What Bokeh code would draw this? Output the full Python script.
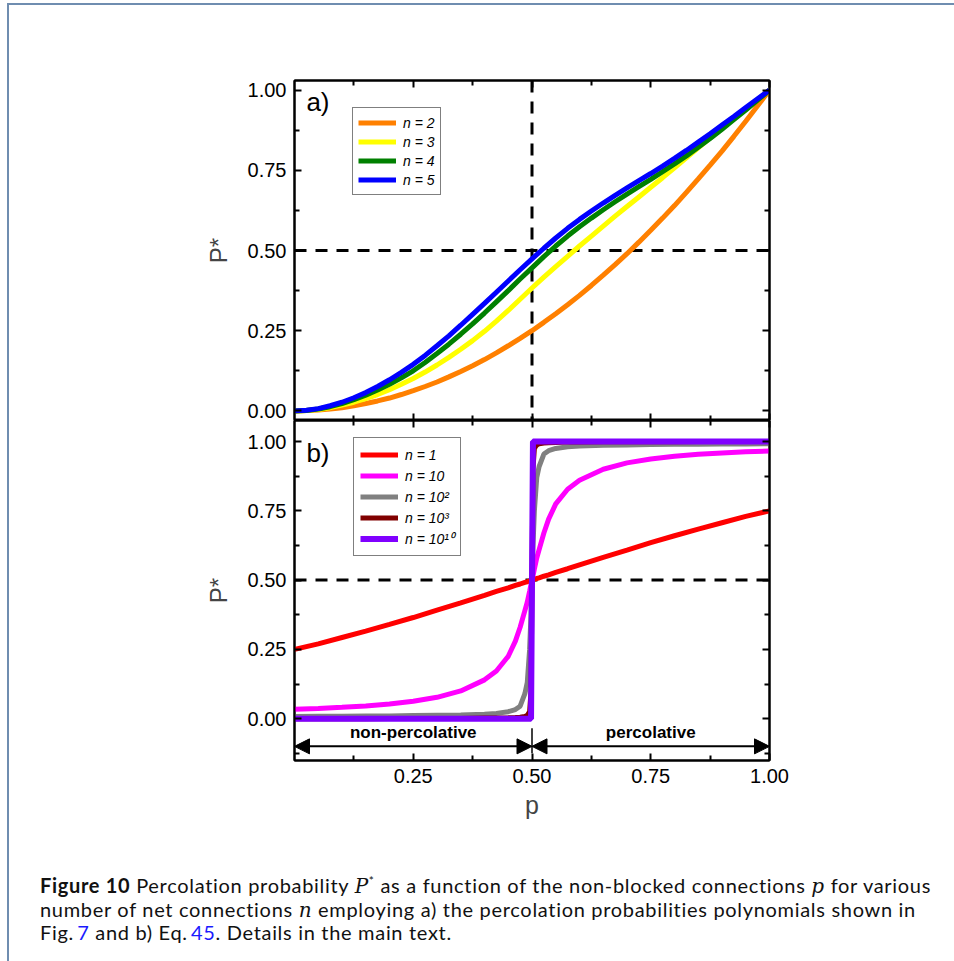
from bokeh.plotting import figure
from bokeh.models import (Range1d, FixedTicker, PrintfTickFormatter, LinearAxis, Span,
                          Legend, LegendItem, Label, Arrow, NormalHead, Div)
from bokeh.layouts import column
from bokeh.embed import file_html
from bokeh.resources import INLINE

# ---------------- data ----------------
# panel a) : polynomials
p_a = [0, .025, .05, .075, .1, .125, .15, .175, .2, .225, .25, .275, .3, .325, .35, .375, .4, .425,
       .45, .475, .5, .525, .55, .575, .6, .625, .65, .675, .7, .725, .75, .775, .8, .825, .85, .875,
       .9, .925, .95, .975, 1]
P_n2 = [0, .001, .003, .006, .01, .016, .023, .031, .04, .051, .063, .076, .09, .106, .123, .141, .16,
        .181, .203, .226, .25, .276, .303, .331, .36, .391, .423, .456, .49, .526, .563, .601, .64, .681,
        .723, .766, .81, .856, .903, .951, 1]
P_n3 = [0, .001, .004, .01, .018, .027, .038, .051, .066, .083, .101, .121, .143, .167, .192, .219, .248,
        .28, .313, .348, .383, .417, .45, .482, .514, .545, .576, .607, .637, .667, .697, .727, .758, .789,
        .82, .851, .882, .912, .942, .971, 1]
P_n4 = [0, .0015, .006, .013, .023, .035, .049, .065, .083, .103, .125, .151, .179, .208, .239, .271, .305,
        .34, .375, .411, .446, .481, .514, .545, .574, .601, .627, .652, .676, .699, .722, .746, .77, .795,
        .822, .849, .878, .908, .938, .969, 1]
P_n5 = [0, .002, .007, .016, .027, .041, .057, .076, .097, .12, .145, .173, .203, .234, .267, .301, .335,
        .37, .405, .44, .474, .507, .539, .569, .597, .623, .648, .672, .695, .718, .74, .763, .787, .812,
        .838, .864, .891, .918, .946, .973, 1]

# panel b) : Eq. 45
p_b = [0, .05, .1, .15, .2, .25, .3, .35, .4, .425, .45, .465, .475, .485, .49, .495, .498, .5,
       .502, .505, .51, .515, .525, .535, .55, .575, .6, .65, .7, .75, .8, .85, .9, .95, 1]
P_n1 = [.25, .27, .293, .316, .34, .365, .392, .418, .445, .459, .472, .481, .486, .492, .494, .497, .499, .5,
        .501, .503, .506, .508, .514, .519, .528, .541, .555, .582, .608, .635, .66, .684, .707, .73, .75]
P_n10 = [.034, .037, .041, .046, .053, .063, .077, .1, .14, .172, .225, .28, .33, .39, .42, .46, .485, .5,
         .515, .54, .58, .61, .67, .72, .775, .828, .86, .9, .923, .937, .947, .954, .959, .963, .966]
P_n1e2 = [.008, .009, .009, .01, .01, .011, .012, .013, .016, .019, .025, .033, .045, .09, .13, .25, .38, .5,
          .62, .75, .87, .91, .955, .967, .975, .981, .984, .987, .988, .989, .99, .99, .991, .991, .992]
P_n1e3 = [0, 0, 0, 0, .001, .001, .001, .001, .002, .002, .003, .004, .005, .008, .012, .025, .1, .5,
          .9, .975, .988, .992, .995, .996, .997, .998, .998, .999, .999, .999, .999, 1, 1, 1, 1]
P_n1e10 = [0, 0, 0, 0, 0, 0, 0, 0, 0, 0, 0, 0, 0, 0, 0, 0, 0, .5,
           1, 1, 1, 1, 1, 1, 1, 1, 1, 1, 1, 1, 1, 1, 1, 1, 1]

labels_a = ["n = 2", "n = 3", "n = 4", "n = 5"]
labels_b = ["n = 1", "n = 10", "n = 10\u00b2", "n = 10\u00b3", "n = 10\u00b9\u2070"]
colors_a = ["#FF8000", "#FFFF00", "#008000", "#0000FF"]
colors_b = ["#FF0000", "#FF00FF", "#808080", "#800000", "#8000FF"]

p_c = 0.5           # percolation threshold (dashed guides / regions)
P_half = 0.5
x_ticks = [0.25, 0.5, 0.75, 1.0]
x_minor = [0.125, 0.375, 0.625, 0.875]
y_ticks = [0.0, 0.25, 0.5, 0.75, 1.0]
y_minor_a = [0.125, 0.375, 0.625, 0.875]
y_minor_b = [-0.125, 0.125, 0.375, 0.625, 0.875]
region_labels = ["non-percolative", "percolative"]
region_centers = [0.25, 0.75]

# ---------------- layout constants ----------------
OX, OY = 9, 5
FONT = "Liberation Sans"


def style_axis(ax, ticks, minor, labelled):
    ax.ticker = FixedTicker(ticks=ticks, minor_ticks=minor)
    ax.formatter = PrintfTickFormatter(format="%.2f")
    ax.axis_line_width = 2
    ax.axis_line_color = "black"
    ax.major_tick_in = 7
    ax.major_tick_out = 0
    ax.minor_tick_in = 5
    ax.minor_tick_out = 0
    ax.major_tick_line_width = 2
    ax.minor_tick_line_width = 2
    ax.major_tick_line_color = "black"
    ax.minor_tick_line_color = "black"
    if labelled:
        ax.major_label_text_font = FONT
        ax.major_label_text_font_size = "20px"
        ax.major_label_text_line_height = 0.9
        ax.major_label_text_color = "black"
        ax.major_label_standoff = 8
    else:
        ax.major_label_text_font_size = "0px"
        ax.major_label_text_color = None
        ax.major_label_standoff = 0


def make_fig(y0, y1, top_border, bottom_border, y_minor, x_labelled):
    f = figure(frame_width=475, frame_height=340, x_range=Range1d(0, 1), y_range=Range1d(y0, y1),
               output_backend="svg", toolbar_location=None,
               min_border_left=294 - OX, min_border_right=185,
               min_border_top=top_border, min_border_bottom=bottom_border,
               x_axis_type=None, y_axis_type=None)
    f.outline_line_color = "black"
    f.outline_line_width = 2
    f.background_fill_color = "white"
    f.border_fill_color = "white"
    bx = LinearAxis()
    style_axis(bx, x_ticks, x_minor, x_labelled)
    if x_labelled:
        bx.axis_label = "p"
        bx.axis_label_text_font = FONT
        bx.axis_label_text_font_size = "25px"
        bx.axis_label_text_font_style = "normal"
        bx.axis_label_standoff = 5
    f.add_layout(bx, "below")
    tx = LinearAxis()
    style_axis(tx, x_ticks, x_minor, False)
    f.add_layout(tx, "above")
    ly = LinearAxis()
    style_axis(ly, y_ticks, y_minor, True)
    ly.axis_label = "P*"
    ly.axis_label_text_font = FONT
    ly.axis_label_text_font_size = "24px"
    ly.axis_label_text_font_style = "normal"
    ly.axis_label_standoff = 13
    f.add_layout(ly, "left")
    ry = LinearAxis()
    style_axis(ry, y_ticks, y_minor, False)
    f.add_layout(ry, "right")
    return f


def add_legend(f, rends, labels, loc, row_h, pad):
    leg = Legend(items=[LegendItem(label=l, renderers=[r]) for l, r in zip(labels, rends)],
                 location=loc, border_line_color="black", border_line_width=1,
                 background_fill_color="white", background_fill_alpha=1.0,
                 padding=pad, spacing=0, margin=0, glyph_width=38, glyph_height=row_h,
                 label_height=row_h, label_standoff=7,
                 label_text_font=FONT, label_text_font_size="14px",
                 label_text_font_style="italic", label_text_color="black")
    f.add_layout(leg, "center")


# ---------------- panel a ----------------
top = make_fig(-0.03, 1.03, 80 - OY, 0, y_minor_a, False)
dash = dict(line_color="black", line_width=3, line_dash="12 9", level="underlay")
top.add_layout(Span(location=p_c, dimension="height", **dash))
top.add_layout(Span(location=P_half, dimension="width", **dash))
rends_a = []
for ys, c in zip([P_n2, P_n3, P_n4, P_n5], colors_a):
    rends_a.append(top.line(p_a, ys, line_color=c, line_width=5))
add_legend(top, rends_a, labels_a, (58, 225), 19, 5)
top.add_layout(Label(x=0.025, y=0.962, text="a)", text_font=FONT, text_font_size="26px",
                     text_baseline="middle", text_align="left", text_color="black"))

# ---------------- panel b ----------------
bot = make_fig(-0.151, 1.076, 0, 60, y_minor_b, True)
bot.add_layout(Span(location=P_half, dimension="width", **dash))
rends_b = []
for ys, c in zip([P_n1, P_n10, P_n1e2, P_n1e3, P_n1e10], colors_b):
    w = 6 if c == "#8000FF" else 5
    rends_b.append(bot.line(p_b, ys, line_color=c, line_width=w))
add_legend(bot, rends_b, labels_b, (59, 204), 21, 6)
bot.add_layout(Label(x=0.025, y=0.96, text="b)", text_font=FONT, text_font_size="26px",
                     text_baseline="middle", text_align="left", text_color="black"))

arrow_y = -0.1
for xs, xe in [(0.0, p_c), (p_c, 1.0)]:
    bot.add_layout(Arrow(start=NormalHead(size=15, fill_color="black", line_color="black"),
                         end=NormalHead(size=15, fill_color="black", line_color="black"),
                         x_start=xs, y_start=arrow_y, x_end=xe, y_end=arrow_y,
                         line_width=2, line_color="black"))
bot.segment(x0=[p_c], y0=[-0.035], x1=[p_c], y1=[-0.125], line_color="black", line_width=1.5)
for t, xc in zip(region_labels, region_centers):
    bot.add_layout(Label(x=xc, y=-0.05, text=t, text_font=FONT, text_font_size="17px",
                         text_font_style="bold", text_align="center", text_baseline="middle",
                         text_color="black"))

# ---------------- caption ----------------
blue = "color:#1a1aff"
serif_i = "font-family:'DejaVu Serif',serif;font-style:italic"
caption = (
    f'<div style="font-family:Lato;font-size:20px;letter-spacing:0.69px;line-height:22.5px;color:#111;'
    f'margin:48px 0 0 26px;white-space:nowrap;">'
    f'<b>Figure 10</b> Percolation probability <span style="{serif_i}">P</span>'
    f'<sup style="font-size:12px;line-height:0">*</sup> as a function of the non-blocked connections '
    f'<span style="{serif_i}">p</span> for various<br>'
    f'number of net connections <span style="{serif_i}">n</span> employing a) the percolation '
    f'probabilities polynomials shown in<br>'
    f'Fig.&thinsp;<span style="{blue}">7</span> and b) Eq.&thinsp;<span style="{blue}">45</span>. '
    f'Details in the main text.</div>'
)
div = Div(text=caption, width=945, height=130)

p = column(top, bot, div, margin=(3, 0, 0, 7), spacing=0,
           styles={"border-left": "2px solid #6f8db0", "border-top": "2px solid #6f8db0"})

open("out.html", "w").write(file_html(p, INLINE))
